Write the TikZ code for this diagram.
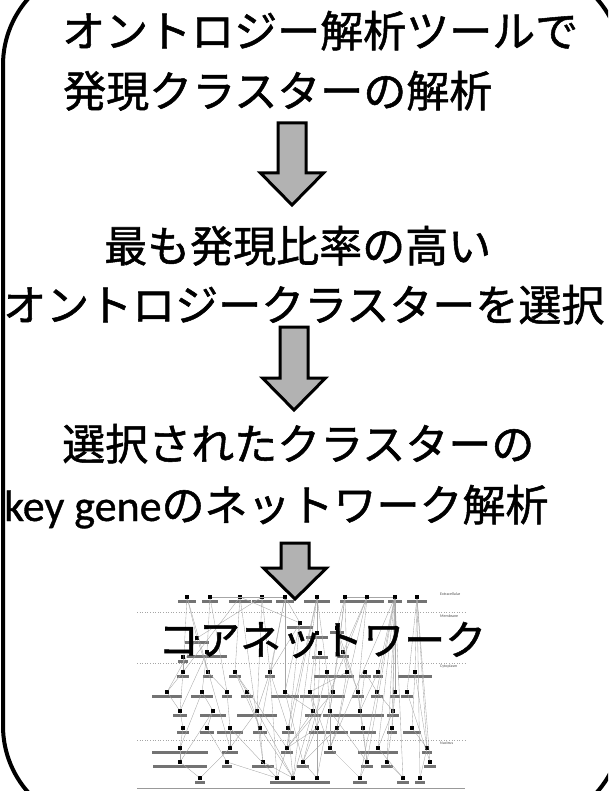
\documentclass[tikz,border=0pt]{standalone}
\usepackage{fontspec}
\newfontfamily\jp[FakeBold=1.2]{Noto Sans CJK JP}
\newfontfamily\lat[FakeBold=0.8]{Carlito}
\newfontfamily\latsmall{Carlito}
\newcommand\netnode[4]{%
  \node[gicon] (#1) at (#2,#3) {};
  \fill[lblc] (#2-#4/2,#3+3) rectangle ++(#4,2.6);}
\tikzset{
  gicon/.style={fill=black,inner sep=0pt,minimum width=3.2pt,minimum height=3.2pt,rectangle},
  lblc/.style={black!55},
  edge/.style={gray!70,line width=0.35pt},
  comp/.style={gray!70,line width=0.6pt,dotted},
  big/.style={inner sep=0pt,anchor=base west,font=\jp\fontsize{43}{43}\selectfont},
  blockarrow/.pic={\draw[line width=3pt,fill=black!30,line join=miter]
     (-14,\atop) -- (-14,\ahead) -- (-31.5,\ahead) -- (0,\atip) -- (31.5,\ahead) -- (14,\ahead) -- (14,\atop) -- cycle;},
  complbl/.style={inner sep=0pt,anchor=west,font=\latsmall\fontsize{4}{4}\selectfont,text=black!70}
}
\begin{document}
\begin{tikzpicture}[x=1pt,y=-1pt]
\useasboundingbox (0,0) rectangle (608,791);
\begin{scope}
\clip (0,0) rectangle (608,791);
\draw[line width=4pt,rounded corners=100pt] (3,-35) rectangle (622,826);
\end{scope}
% ---------- network picture ----------
\netnode{a1}{187}{597}{18}\netnode{a2}{210}{597}{16}\netnode{a3}{240}{597}{22}
\netnode{a4}{262}{597}{20}\netnode{a5}{285}{597}{18}\netnode{a6}{317}{597}{26}
\netnode{a7}{345}{597}{10}\netnode{a8}{367}{597}{34}\netnode{a9}{395}{597}{14}
\netnode{a10}{417}{597}{20}
\netnode{m1}{197}{638}{24}\netnode{m2}{207}{652}{40}\netnode{m3}{183}{657}{10}
\netnode{m4}{300}{623}{26}\netnode{m5}{317}{633}{22}\netnode{m6}{337}{628}{14}
\netnode{m7}{343}{652}{12}\netnode{m8}{320}{653}{16}
\netnode{c1}{183}{672}{12}\netnode{c2}{208}{672}{10}\netnode{c3}{235}{672}{12}
\netnode{c4}{270}{672}{10}\netnode{c5}{327}{672}{26}\netnode{c6}{347}{672}{14}
\netnode{c7}{365}{672}{12}\netnode{c8}{378}{672}{10}\netnode{c9}{415}{672}{34}
\netnode{d1}{167}{692}{30}\netnode{d2}{202}{692}{22}\netnode{d3}{227}{692}{10}
\netnode{d4}{247}{692}{12}\netnode{d5}{285}{692}{28}\netnode{d6}{310}{692}{20}
\netnode{d7}{333}{692}{24}\netnode{d8}{358}{692}{12}\netnode{d9}{377}{692}{12}
\netnode{d10}{395}{692}{10}\netnode{d11}{407}{692}{12}
\netnode{e1}{180}{711}{14}\netnode{e2}{213}{711}{26}\netnode{e3}{257}{711}{40}
\netnode{e4}{313}{711}{16}\netnode{e5}{330}{711}{14}\netnode{e6}{360}{711}{48}
\netnode{e7}{393}{711}{12}
\netnode{f1}{183}{728}{12}\netnode{f2}{207}{728}{14}\netnode{f3}{230}{728}{26}
\netnode{f4}{260}{728}{14}\netnode{f5}{288}{728}{12}\netnode{f6}{317}{728}{16}
\netnode{f7}{337}{728}{22}\netnode{f8}{363}{728}{26}\netnode{f9}{392}{728}{10}
\netnode{f10}{412}{728}{18}
\netnode{g1}{180}{748}{56}\netnode{g2}{230}{748}{16}\netnode{g3}{287}{748}{12}
\netnode{g4}{330}{748}{12}\netnode{g5}{378}{748}{40}\netnode{g6}{427}{748}{10}
\netnode{h1}{180}{762}{54}\netnode{h2}{227}{762}{10}\netnode{h3}{263}{762}{22}
\netnode{h4}{303}{762}{12}\netnode{h5}{367}{762}{12}\netnode{h6}{387}{762}{12}
\netnode{h7}{430}{762}{12}
\netnode{i1}{200}{778}{10}\netnode{i2}{277}{778}{14}\netnode{i3}{293}{778}{30}
\netnode{i4}{317}{778}{26}\netnode{i5}{360}{778}{14}\netnode{i6}{403}{778}{12}
\netnode{i7}{420}{778}{10}
\foreach \p/\q in {a1/c1,a1/m1,a2/m2,a2/d3,a3/c3,a3/m4,a4/c4,a4/e3,a5/m4,a5/d5,
  a5/c4,a6/m5,a6/c5,a6/f5,a7/m6,a7/c6,a7/d7,a7/e5,a8/m7,a8/d8,a9/c8,a9/d10,a9/e7,
  a9/f9,a9/g5,a9/h6,a9/i6,a10/c9,a10/d11,a10/h7,m1/c2,m2/d2,m3/c1,m4/c4,m4/d5,
  m5/e4,m6/c6,m7/d8,m8/f6,c1/d1,c1/e1,c2/d3,c3/d4,c3/f4,c4/e3,c4/f5,c5/d7,c5/e5,
  c6/f7,c7/d9,c8/e6,c9/f10,c9/g6,d1/e1,d2/e2,d3/f3,d4/f4,d5/e4,d6/f6,d7/g3,d8/f8,
  d9/e7,d10/f9,d11/h7,e1/f1,e2/f2,e3/g2,e4/g3,e5/g4,e6/h5,e7/g5,f1/g1,f2/h2,f3/g2,
  f4/h3,f5/i3,f6/i4,f7/h4,f8/h5,f9/h6,f10/g6,g1/h1,g2/i1,g3/i2,g4/i5,g5/i6,g6/i7,
  h1/i1,h2/i2,h3/i3,h4/i4,h5/i5,h6/i6,a2/a5,a7/a8,a8/a9,a1/g2,a3/h3,a6/i3,c4/i2,
  d5/h4,m4/g3,a5/f4,c3/g3,e3/i3,a9/h5,a9/g4,a8/f7,a6/g3,c5/h4,d7/i4,
  a10/i7,a10/g6,a9/i5,a8/h4,a4/m1,a3/c1,m1/d1,m2/e1,d2/g1,e2/h1,f3/i2,f4/i3,
  d6/g4,e4/i3,e5/h5,f6/g3,f7/g4,c6/d6,c7/e6,d8/e6,m6/d8,m5/d6}
  {\draw[edge] (\p) -- (\q);}
\coordinate (cl0) at (137,612); \coordinate (cr0) at (465,612);
\coordinate (cl1) at (137,663); \coordinate (cr1) at (465,663);
\coordinate (cl2) at (137,740); \coordinate (cr2) at (465,740);
\coordinate (cl3) at (137,788); \coordinate (cr3) at (465,788);
\draw[comp] (cl0) -- (cr0);
\draw[comp] (cl1) -- (cr1);
\draw[comp] (cl2) -- (cr2);
\draw[gray!80,line width=1pt] (cl3) -- (cr3);
\node[complbl] (x1) at (440,594) {Extracellular};
\node[complbl] (x2) at (440,616) {Membrane};
\node[complbl] (x3) at (440,666) {Cytoplasm};
\node[complbl] (x4) at (440,743) {Nucleus};
% ---------- text ----------
\node[big] (t1) at (62,47) {オントロジー解析ツールで};
\node[big] (t2) at (63,107) {発現クラスターの解析};
\node[big] (t3) at (104,262) {最も発現比率の高い};
\node[big] (t4) at (3,321) {オントロジークラスターを選択};
\node[big] (t5) at (62,460) {選択されたクラスターの};
\node[big] (t6) at (4,521) {{\lat\fontsize{44}{44}\selectfont key gene}のネットワーク解析};
\def\atop{123}\def\ahead{173}\def\atip{205}
\pic at (292,0) {blockarrow};
\def\atop{327}\def\ahead{378}\def\atip{410}
\pic at (294,0) {blockarrow};
\def\atop{543}\def\ahead{568}\def\atip{599}
\pic at (295,0) {blockarrow};
\node[big,font=\jp\fontsize{41}{41}\selectfont] (t7) at (158,655) {コアネットワーク};
\end{tikzpicture}
\end{document}
